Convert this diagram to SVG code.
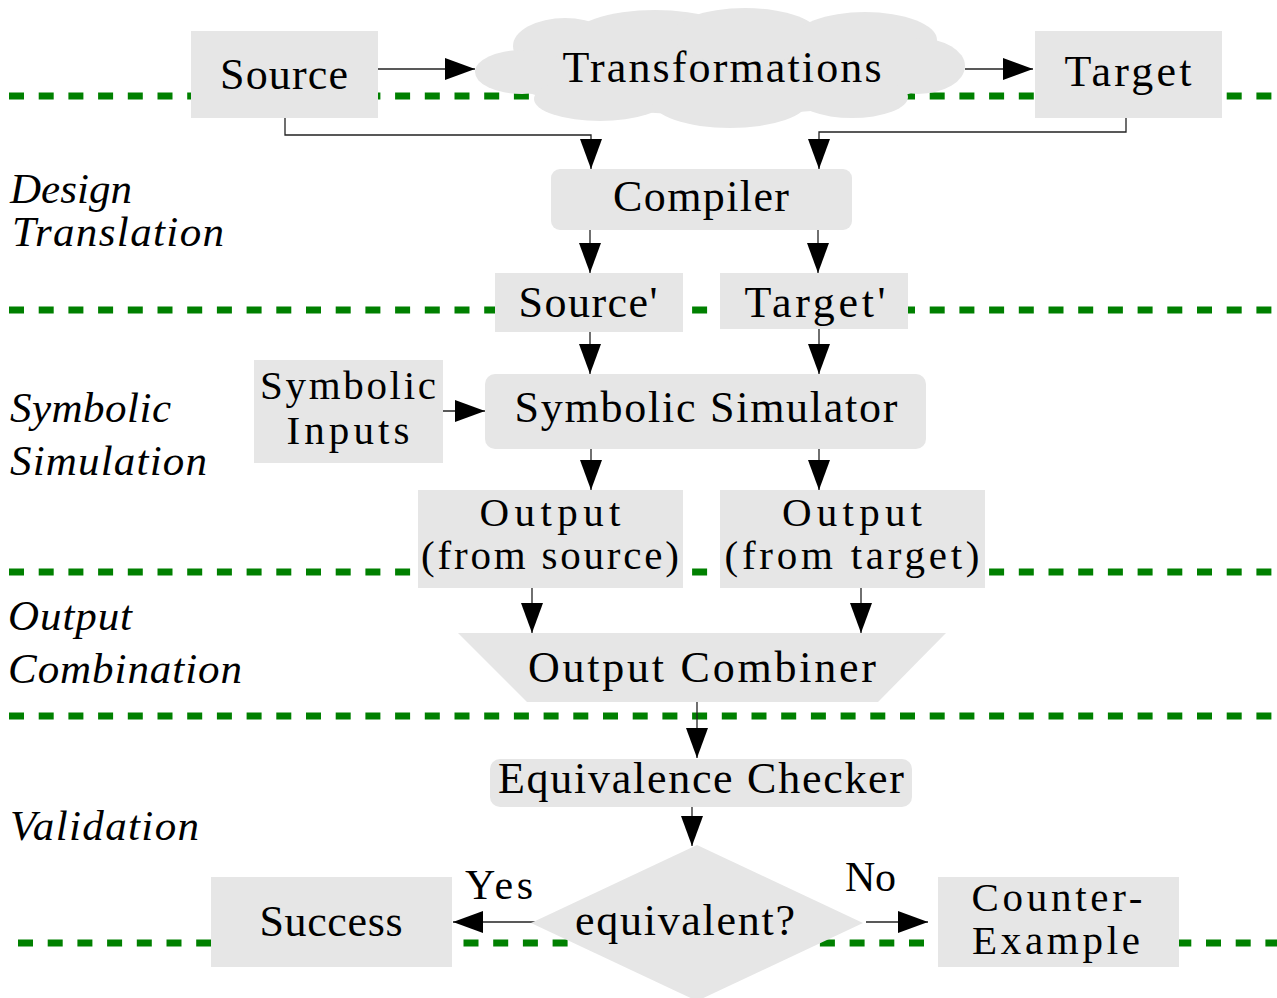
<svg xmlns="http://www.w3.org/2000/svg" width="1277" height="998" viewBox="0 0 1277 998">
  <style>
    .lane { stroke: #008000; stroke-width: 7; stroke-dasharray: 15 14.7; fill: none; }
    .box { fill: #e6e6e6; stroke: none; }
    .lbl { font-family: "Liberation Serif", "Times New Roman", serif; font-size: 44px; fill: #000; text-anchor: middle; }
    .lbl2 { font-family: "Liberation Serif", "Times New Roman", serif; font-size: 41px; fill: #000; text-anchor: middle; }
    .stage { font-family: "Liberation Serif", "Times New Roman", serif; font-size: 43px; font-style: italic; fill: #000; }
    .edge { fill: none; stroke: #222; stroke-width: 1.3; }
    .edge-lbl { font-family: "Liberation Serif", "Times New Roman", serif; font-size: 42px; fill: #000; }
  </style>
  <defs>
    <marker id="arrow" viewBox="0 0 30 22" markerWidth="30" markerHeight="22" refX="30" refY="11" orient="auto" markerUnits="userSpaceOnUse">
      <path d="M0,0 L30,11 L0,22 Z" fill="#000"/>
    </marker>
  </defs>

  <rect width="1277" height="998" fill="#fff"/>

  <!-- stage separators -->
  <g id="lanes">
    <line class="lane" x1="9" y1="96" x2="1277" y2="96"/>
    <line class="lane" x1="9" y1="310" x2="1277" y2="310"/>
    <line class="lane" x1="9" y1="572" x2="1277" y2="572"/>
    <line class="lane" x1="9" y1="716" x2="1277" y2="716"/>
    <line class="lane" x1="18" y1="943" x2="1277" y2="943"/>
  </g>

  <!-- stage names -->
  <g id="stages">
    <text class="stage" x="10" y="203" textLength="122">Design</text>
    <text class="stage" x="12" y="246" textLength="212">Translation</text>
    <text class="stage" x="10" y="422" textLength="161">Symbolic</text>
    <text class="stage" x="10" y="475" textLength="197">Simulation</text>
    <text class="stage" x="8" y="630" textLength="124">Output</text>
    <text class="stage" x="8" y="683" textLength="234">Combination</text>
    <text class="stage" x="10" y="840" textLength="189">Validation</text>
  </g>

  <!-- connectors -->
  <g id="connectors">
    <path class="edge" d="M378,69 H475" marker-end="url(#arrow)"/>
    <path class="edge" d="M965,69 H1033" marker-end="url(#arrow)"/>
    <path class="edge" d="M285,118 V135 H591 V169" marker-end="url(#arrow)"/>
    <path class="edge" d="M1126,118 V132 H819 V169" marker-end="url(#arrow)"/>
    <path class="edge" d="M590,230 V273" marker-end="url(#arrow)"/>
    <path class="edge" d="M818,230 V273" marker-end="url(#arrow)"/>
    <path class="edge" d="M590,332 V374" marker-end="url(#arrow)"/>
    <path class="edge" d="M819,329 V374" marker-end="url(#arrow)"/>
    <path class="edge" d="M443,411 H485" marker-end="url(#arrow)"/>
    <path class="edge" d="M591,449 V490" marker-end="url(#arrow)"/>
    <path class="edge" d="M819,449 V490" marker-end="url(#arrow)"/>
    <path class="edge" d="M532,588 V633" marker-end="url(#arrow)"/>
    <path class="edge" d="M861,588 V633" marker-end="url(#arrow)"/>
    <path class="edge" d="M697,702 V758" marker-end="url(#arrow)"/>
    <path class="edge" d="M692,807 V846" marker-end="url(#arrow)"/>
    <path class="edge" d="M535,922 H453" marker-end="url(#arrow)"/>
    <path class="edge" d="M866,922 H928" marker-end="url(#arrow)"/>
    <text class="edge-lbl" x="465" y="899" textLength="68">Yes</text>
    <text class="edge-lbl" x="845" y="891" textLength="51">No</text>
  </g>

  <g id="source">
    <rect class="box" x="191" y="31" width="187" height="87"/>
    <text class="lbl" x="284" y="89" textLength="128">Source</text>
  </g>

  <g id="transformations">
    <g class="box">
      <ellipse cx="720" cy="70" rx="222" ry="45"/>
      <ellipse cx="565" cy="46" rx="52" ry="28"/>
      <ellipse cx="655" cy="40" rx="85" ry="30"/>
      <ellipse cx="745" cy="36" rx="75" ry="28"/>
      <ellipse cx="865" cy="40" rx="72" ry="28"/>
      <ellipse cx="918" cy="66" rx="47" ry="28"/>
      <ellipse cx="522" cy="72" rx="47" ry="22"/>
      <ellipse cx="600" cy="99" rx="66" ry="22"/>
      <ellipse cx="730" cy="101" rx="78" ry="27"/>
      <ellipse cx="852" cy="97" rx="56" ry="21"/>
    </g>
    <text class="lbl" x="722" y="82" textLength="319">Transformations</text>
  </g>

  <g id="target">
    <rect class="box" x="1035" y="31" width="187" height="87"/>
    <text class="lbl" x="1128" y="86" textLength="127">Target</text>
  </g>

  <g id="compiler">
    <rect class="box" x="551" y="169" width="301" height="61" rx="9"/>
    <text class="lbl" x="701" y="211" textLength="176">Compiler</text>
  </g>

  <g id="source-prime">
    <rect class="box" x="495" y="273" width="188" height="59"/>
    <text class="lbl" x="588" y="317" textLength="139">Source'</text>
  </g>

  <g id="target-prime">
    <rect class="box" x="720" y="273" width="188" height="56"/>
    <text class="lbl" x="815" y="317" textLength="141">Target'</text>
  </g>

  <g id="symbolic-inputs">
    <rect class="box" x="254" y="360" width="189" height="103"/>
    <text class="lbl2" x="348" y="399" textLength="176">Symbolic</text>
    <text class="lbl2" x="348" y="444" textLength="123">Inputs</text>
  </g>

  <g id="symbolic-simulator">
    <rect class="box" x="485" y="374" width="441" height="75" rx="10"/>
    <text class="lbl" x="706" y="422" textLength="383">Symbolic Simulator</text>
  </g>

  <g id="output-source">
    <rect class="box" x="418" y="490" width="265" height="98"/>
    <text class="lbl2" x="550" y="526" textLength="141">Output</text>
    <text class="lbl2" x="550" y="569" textLength="258">(from source)</text>
  </g>

  <g id="output-target">
    <rect class="box" x="720" y="490" width="265" height="98"/>
    <text class="lbl2" x="852" y="526" textLength="140">Output</text>
    <text class="lbl2" x="852" y="569" textLength="255">(from target)</text>
  </g>

  <g id="output-combiner">
    <polygon class="box" points="458,633 946,633 878,702 527,702"/>
    <text class="lbl" x="702" y="682" textLength="348">Output Combiner</text>
  </g>

  <g id="equivalence-checker">
    <rect class="box" x="490" y="759" width="422" height="48" rx="10"/>
    <text class="lbl" x="701" y="793" textLength="406">Equivalence Checker</text>
  </g>

  <g id="decision">
    <polygon class="box" points="697,845 863,923 697,1001 531,923"/>
    <text class="lbl" x="685" y="935" textLength="220">equivalent?</text>
  </g>

  <g id="success">
    <rect class="box" x="211" y="877" width="241" height="90"/>
    <text class="lbl" x="331" y="936" textLength="143">Success</text>
  </g>

  <g id="counter-example">
    <rect class="box" x="938" y="877" width="241" height="90"/>
    <text class="lbl2" x="1057" y="911" textLength="171">Counter-</text>
    <text class="lbl2" x="1056" y="954" textLength="168">Example</text>
  </g>
</svg>
